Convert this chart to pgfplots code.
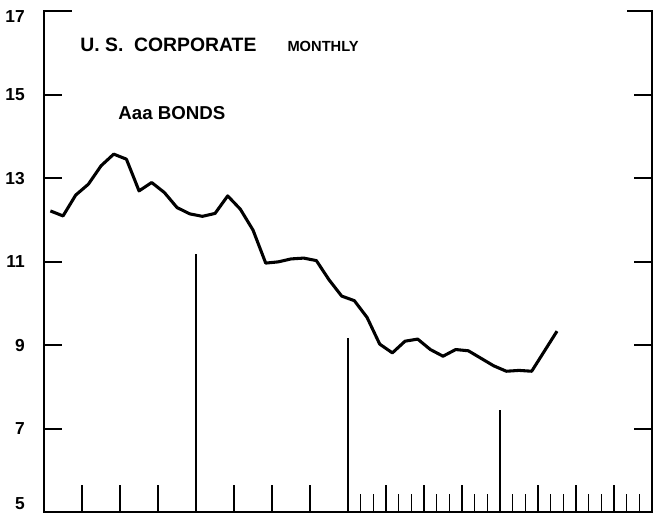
\documentclass[border=0pt]{standalone}
\usepackage{pgfplots}
\pgfplotsset{compat=1.18}
\usepackage{fontspec}
\setmainfont{Liberation Sans}
\begin{document}
\begin{tikzpicture}
\begin{axis}[
  name=ax,
  scale only axis,
  width=455.4pt, height=375.3pt,
  xmin=0, xmax=48, ymin=5, ymax=17,
  clip=false,
  axis line style={draw=none},
  tick align=inside,
  xtick pos=bottom,
  major tick length=13.4pt,
  xtick={25,26,28,29,31,32,34,35,37,38,40,41,43,44,46,47},
  xticklabels={},
  extra x ticks={3,6,9,15,18,21,27,30,33,39,42,45},
  extra x tick labels={},
  extra x tick style={major tick length=20.5pt},
  ytick={5,7,9,11,13,15,17},
  yticklabels={\raisebox{1.8pt}[0pt][0pt]{5},\mbox{7},\mbox{9},\mbox{11},\mbox{13},\mbox{15},\raisebox{-8pt}[0pt][0pt]{17}},
  ytick pos=both,
  yticklabel pos=left,
  ytick style={draw=black, line width=1.3pt},
  xtick style={draw=black, line width=1.1pt},
  yticklabel style={font=\bfseries\fontsize{13}{13}\selectfont, inner sep=0pt, xshift=-14.3pt},
  /pgf/number format/assume math mode=true,
]
% frame with top stubs
\addplot[black, line width=1.6pt, no marks] coordinates {(2.2,17) (0,17) (0,5) (48,5) (48,17) (46.0,17)};
% year separator lines
\addplot[black, line width=1.3pt, no marks] coordinates {(12,5) (12,11.2)};
\addplot[black, line width=1.3pt, no marks] coordinates {(24,5) (24,9.17)};
\addplot[black, line width=1.3pt, no marks] coordinates {(36,5) (36,7.45)};
% data
\addplot[black, line width=2.3pt, no marks, line join=round] coordinates {
(0.5,12.22) (1.5,12.10) (2.5,12.60) (3.5,12.86) (4.5,13.30) (5.5,13.58)
(6.5,13.46) (7.5,12.70) (8.5,12.90) (9.5,12.66) (10.5,12.30) (11.5,12.15)
(12.5,12.09) (13.5,12.16) (14.5,12.58) (15.5,12.26) (16.5,11.76) (17.5,10.97)
(18.5,11.00) (19.5,11.07) (20.5,11.09) (21.5,11.03) (22.5,10.57) (23.5,10.18)
(24.5,10.07) (25.5,9.67) (26.5,9.03) (27.5,8.82) (28.5,9.10) (29.5,9.15)
(30.5,8.90) (31.5,8.74) (32.5,8.90) (33.5,8.87) (34.5,8.69) (35.5,8.51)
(36.5,8.38) (37.5,8.40) (38.5,8.38) (39.5,8.86) (40.5,9.34)
};
\node[anchor=base west, inner sep=0pt, font=\bfseries\fontsize{14.5}{14.5}\selectfont] at (axis cs:2.85,16.03) {U. S.\ \ CORPORATE};
\node[anchor=base west, inner sep=0pt, font=\bfseries\fontsize{11}{11}\selectfont] at (axis cs:19.2,16.03) {MONTHLY};
\node[anchor=base west, inner sep=0pt, font=\bfseries\fontsize{14}{14}\selectfont] at (axis cs:5.85,14.42) {Aaa BONDS};
\end{axis}
\pgfresetboundingbox
\path[use as bounding box] ([xshift=-33pt,yshift=-1.5pt]ax.south west) rectangle ([xshift=2.25pt,yshift=8.5pt]ax.north east);
\end{tikzpicture}
\end{document}
